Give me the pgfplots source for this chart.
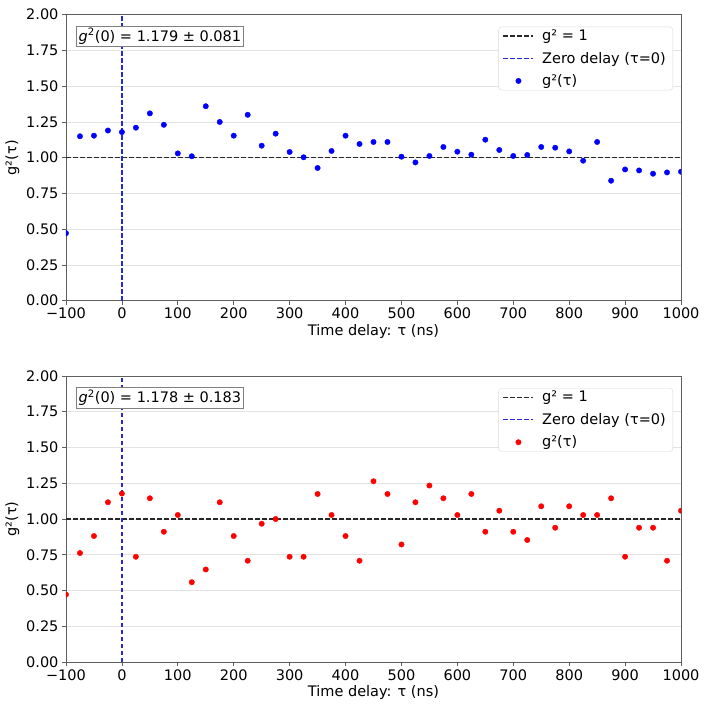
\documentclass[border=0pt]{standalone}
\usepackage{fontspec}
\setmainfont{DejaVu Sans}
\usepackage{pgfplots}
\usepackage{pgfplotstable}
\pgfplotsset{compat=1.18}

\newcommand\fs{\fontsize{14.5pt}{17pt}\selectfont}
\definecolor{zeroblue}{RGB}{40,40,215}
\definecolor{unitline}{RGB}{40,40,40}
\definecolor{spine}{RGB}{95,95,95}

% g2(tau) measured in 25 ns bins
\pgfplotstableread{
tau g
-100 0.472
-75 1.150
-50 1.154
-25 1.190
0 1.179
25 1.210
50 1.310
75 1.230
100 1.030
125 1.010
150 1.360
175 1.250
200 1.154
225 1.300
250 1.084
275 1.168
300 1.040
325 1.003
350 0.928
375 1.047
400 1.154
425 1.096
450 1.110
475 1.110
500 1.007
525 0.967
550 1.012
575 1.075
600 1.042
625 1.021
650 1.126
675 1.054
700 1.012
725 1.019
750 1.075
775 1.070
800 1.044
825 0.979
850 1.110
875 0.839
900 0.918
925 0.911
950 0.888
975 0.897
1000 0.902
}\runA

\pgfplotstableread{
tau g
-100 0.472
-75 0.762
-50 0.881
-25 1.117
0 1.178
25 0.736
50 1.145
75 0.911
100 1.028
125 0.558
150 0.647
175 1.117
200 0.881
225 0.708
250 0.967
275 1.000
300 0.736
325 0.736
350 1.175
375 1.028
400 0.881
425 0.708
450 1.264
475 1.175
500 0.822
525 1.117
550 1.234
575 1.145
600 1.028
625 1.175
650 0.911
675 1.058
700 0.911
725 0.853
750 1.089
775 0.939
800 1.089
825 1.028
850 1.028
875 1.145
900 0.736
925 0.939
950 0.939
975 0.708
1000 1.058
}\runB

\pgfplotsset{
  g2axis/.style={
    scale only axis, width=615pt, height=286pt,
    anchor=south west,
    xmin=-100, xmax=1000, ymin=0, ymax=2,
    xtick={-100,0,100,200,300,400,500,600,700,800,900,1000},
    xticklabels={−100,0,100,200,300,400,500,600,700,800,900,1000},
    ytick={0,0.25,0.5,0.75,1,1.25,1.5,1.75,2},
    yticklabel style={/pgf/number format/.cd, fixed, fixed zerofill, precision=2, assume math mode=true},
    ymajorgrids, major grid style={gray!22, line width=0.6pt},
    tick align=outside, tick pos=left, major tick length=4pt,
    axis line style={spine, line width=0.8pt},
    every tick/.style={spine, line width=0.8pt},
    tick label style={font=\fs, text=black},
    label style={font=\fs},
    xlabel={Time delay: τ (ns)}, ylabel={g²(τ)},
    xlabel style={yshift=2pt},
    clip marker paths=true,
    legend cell align=left,
    legend image code/.code={\draw[##1] (0pt,0pt) -- (30pt,0pt);},
    legend style={at={(rel axis cs:1,1)}, anchor=north east, xshift=-8pt, yshift=-12pt,
      draw=gray!30, rounded corners=3pt, font=\fs, row sep=10pt, column sep=5pt,
      inner xsep=4pt, inner ysep=3pt,
      nodes={inner xsep=3pt, inner ysep=0pt}},
  },
  dotlegend/.style={legend image code/.code={\draw[mark repeat=2,mark phase=2,##1] plot coordinates {(0pt,0pt)(15pt,0pt)(30pt,0pt)};}},
  unitref/.style={unitline, line width=1.4pt, dash pattern=on 4.5pt off 2.5pt},
  zeroref/.style={zeroblue, line width=1.5pt, dash pattern=on 4.5pt off 2.5pt},
}

\begin{document}
\begin{tikzpicture}
\useasboundingbox (0,0) rectangle (711pt,710pt);

% upper run
\begin{axis}[g2axis, at={(66pt,409.3pt)}]
  \addplot[unitref] coordinates {(-100,1) (1000,1)};
  \addlegendentry{g² = 1}
  \addplot[zeroref] coordinates {(0,0) (0,2)};
  \addlegendentry{Zero delay (τ=0)}
  \addplot[only marks, mark=*, mark size=2.7pt, color=blue, dotlegend]
    table[x=tau, y=g] {\runA};
  \addlegendentry{g²(τ)}
  \node[draw=gray, fill=white, anchor=north west, inner sep=2.5pt, font=\fs,
        xshift=10pt, yshift=-11pt] at (rel axis cs:0,1)
        {{\itshape g}\textsuperscript{2}(0) = 1.179 ± 0.081};
\end{axis}

% lower run
\begin{axis}[g2axis, at={(66pt,48pt)}]
  \addplot[unitref] coordinates {(-100,1) (1000,1)};
  \addlegendentry{g² = 1}
  \addplot[zeroref] coordinates {(0,0) (0,2)};
  \addlegendentry{Zero delay (τ=0)}
  \addplot[only marks, mark=*, mark size=2.7pt, color=red, dotlegend]
    table[x=tau, y=g] {\runB};
  \addlegendentry{g²(τ)}
  \node[draw=gray, fill=white, anchor=north west, inner sep=2.5pt, font=\fs,
        xshift=10pt, yshift=-11pt] at (rel axis cs:0,1)
        {{\itshape g}\textsuperscript{2}(0) = 1.178 ± 0.183};
\end{axis}
\end{tikzpicture}
\end{document}
